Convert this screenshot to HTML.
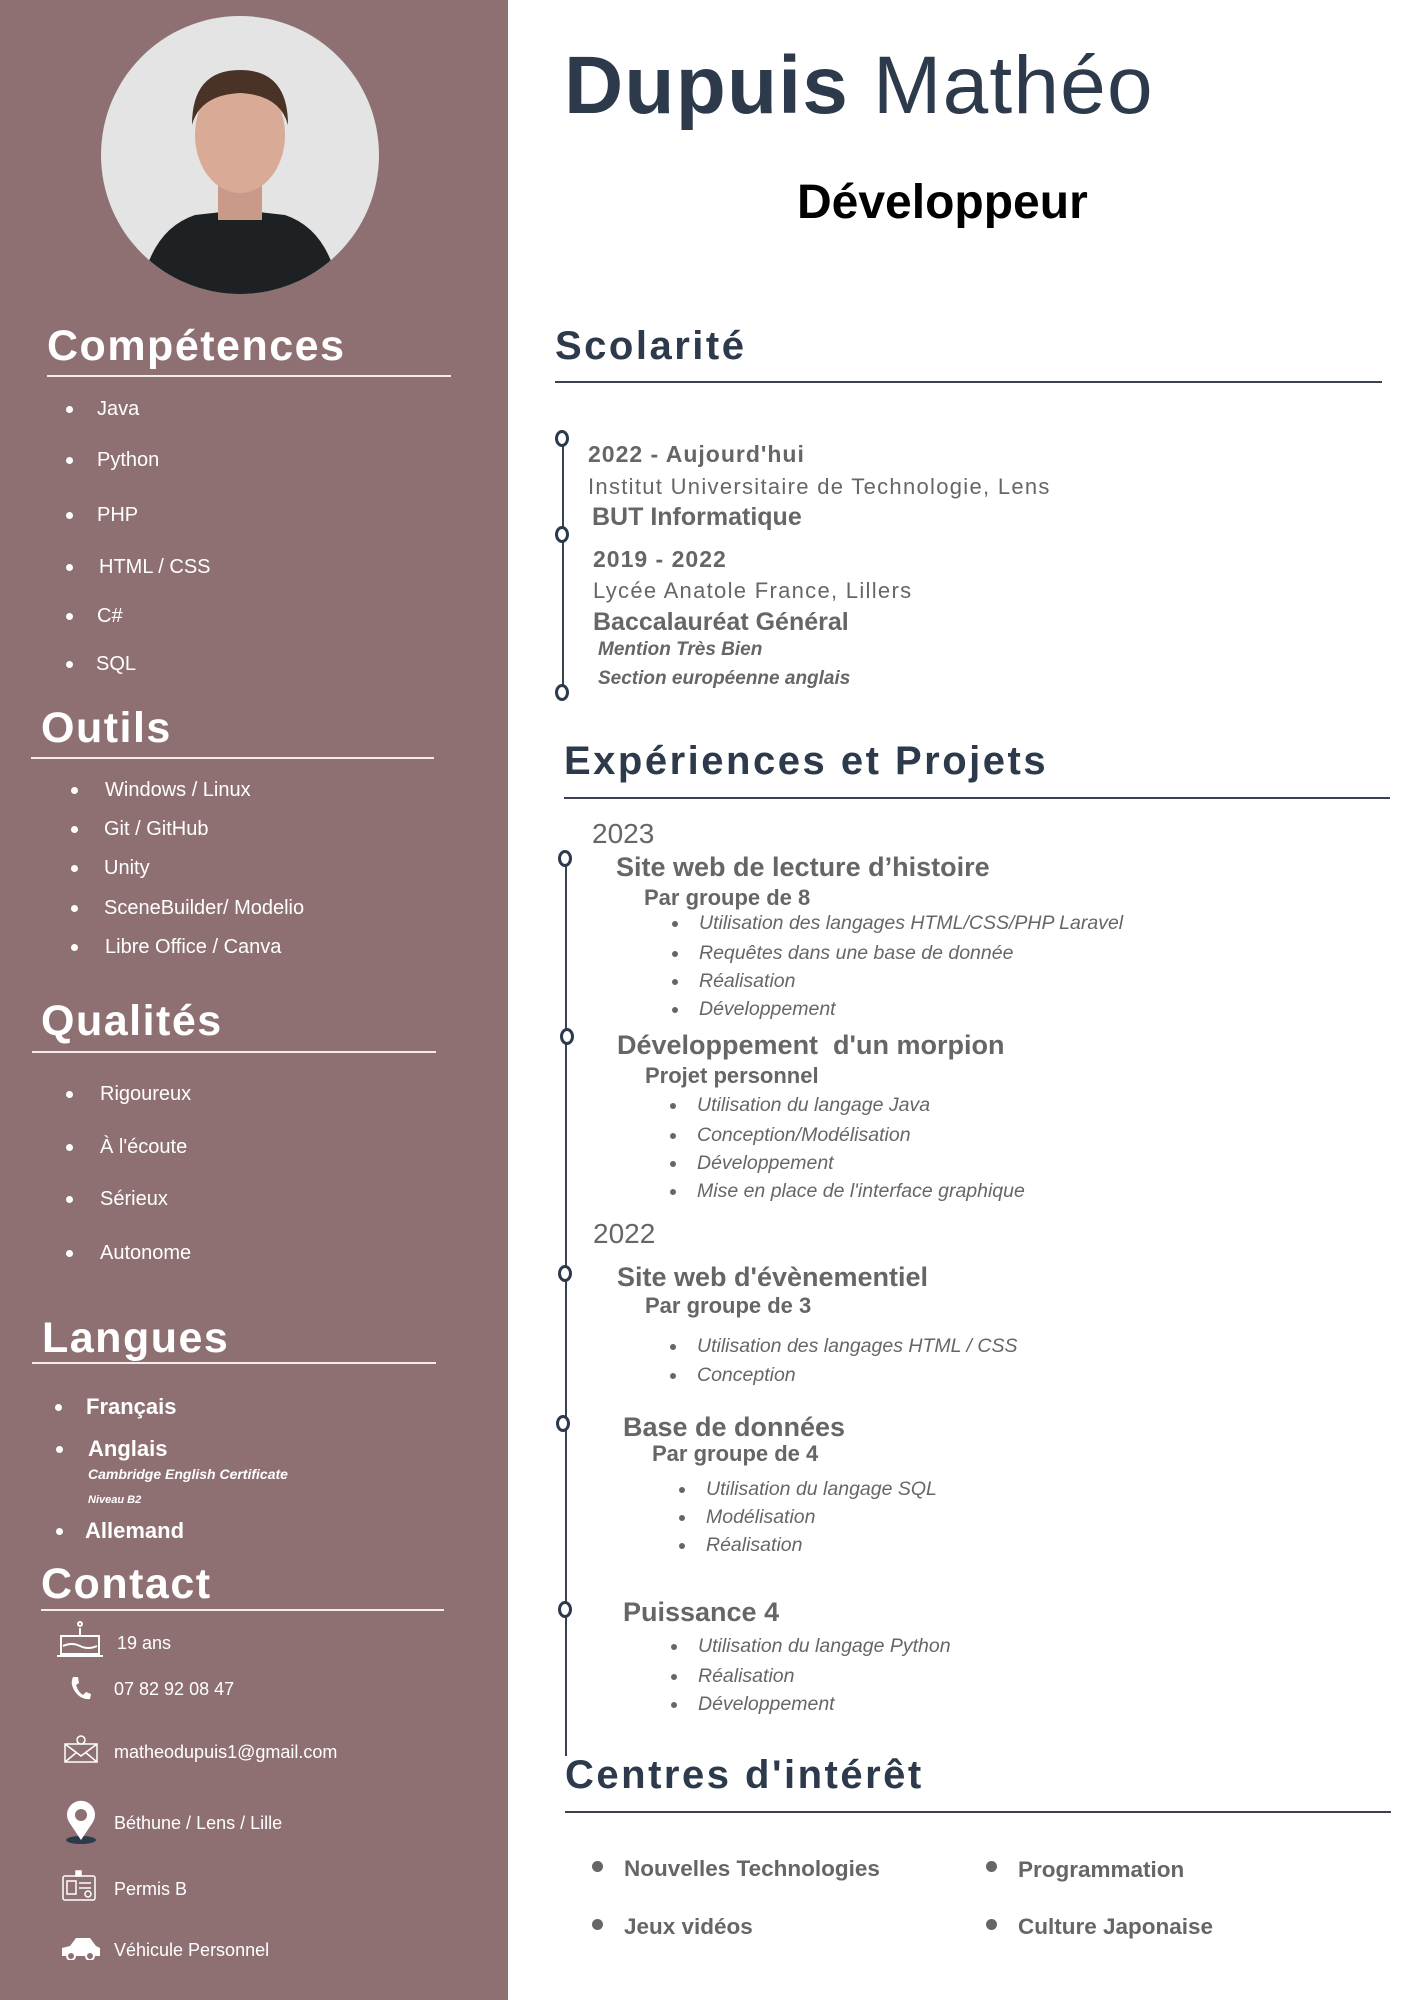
<!DOCTYPE html>
<html><head><meta charset="utf-8"><style>
body{margin:0;width:1414px;height:2000px;position:relative;background:#fff;font-family:"Liberation Sans",sans-serif;overflow:hidden}
.t{position:absolute;white-space:nowrap;line-height:1;margin-top:3px}
.side{position:absolute;left:0;top:0;width:508px;height:2000px;background:#8e7073}
.w{color:#fff}
.h{font-weight:bold;font-size:43px;color:#fff;letter-spacing:1.5px}
.rh{font-weight:bold;font-size:40px;color:#2d3a4b;letter-spacing:2.5px}
.ln{position:absolute;height:2px;background:#f3eeee}
.rl{position:absolute;height:2px;background:#3a4250}
.d{position:absolute;width:7px;height:7px;border-radius:50%;background:#fff;margin-top:3px}
.g{color:#666}
.gd{position:absolute;width:6px;height:6px;border-radius:50%;background:#666;margin-top:3px}
.c{position:absolute;width:14px;height:17px;border:3px solid #2d3a4b;border-radius:50%;background:#fff;box-sizing:border-box;margin-left:-2px;margin-top:-2px}
.it{font-style:italic;font-size:19.5px;color:#666}
</style></head><body>
<div class="side"></div>
<svg style="position:absolute;left:100px;top:15px" width="280" height="280" viewBox="0 0 280 280">
<defs><clipPath id="cp"><circle cx="140" cy="140" r="139"/></clipPath></defs>
<g clip-path="url(#cp)">
<rect width="280" height="280" fill="#e4e4e4"/>
<path d="M40 280 Q50 215 95 200 L140 195 L185 200 Q230 215 240 280Z" fill="#1e2124"/>
<rect x="118" y="160" width="44" height="45" fill="#c99a88"/>
<ellipse cx="140" cy="120" rx="45" ry="58" fill="#d9ab97"/>
<path d="M92 110 Q92 55 140 55 Q188 55 188 110 Q180 80 140 78 Q100 80 92 110Z" fill="#4a3226"/>
</g></svg>

<div class="t h" style="left:47px;top:322px">Compétences</div>
<div class="ln" style="left:47px;top:375px;width:404px"></div>
<div class="d" style="left:66px;top:403px"></div><div class="t w" style="left:97px;top:396px;font-size:20px">Java</div>
<div class="d" style="left:66px;top:454px"></div><div class="t w" style="left:97px;top:447px;font-size:20px">Python</div>
<div class="d" style="left:66px;top:509px"></div><div class="t w" style="left:97px;top:502px;font-size:20px">PHP</div>
<div class="d" style="left:66px;top:561px"></div><div class="t w" style="left:99px;top:554px;font-size:20px">HTML / CSS</div>
<div class="d" style="left:66px;top:610px"></div><div class="t w" style="left:97px;top:603px;font-size:20px">C#</div>
<div class="d" style="left:66px;top:658px"></div><div class="t w" style="left:96px;top:651px;font-size:20px">SQL</div>

<div class="t h" style="left:41px;top:704px">Outils</div>
<div class="ln" style="left:31px;top:757px;width:403px"></div>
<div class="d" style="left:71px;top:784px"></div><div class="t w" style="left:105px;top:777px;font-size:20px">Windows / Linux</div>
<div class="d" style="left:71px;top:823px"></div><div class="t w" style="left:104px;top:816px;font-size:20px">Git / GitHub</div>
<div class="d" style="left:71px;top:862px"></div><div class="t w" style="left:104px;top:855px;font-size:20px">Unity</div>
<div class="d" style="left:71px;top:902px"></div><div class="t w" style="left:104px;top:895px;font-size:20px">SceneBuilder/ Modelio</div>
<div class="d" style="left:71px;top:941px"></div><div class="t w" style="left:105px;top:934px;font-size:20px">Libre Office / Canva</div>

<div class="t h" style="left:41px;top:997px">Qualités</div>
<div class="ln" style="left:32px;top:1051px;width:404px"></div>
<div class="d" style="left:66px;top:1088px"></div><div class="t w" style="left:100px;top:1081px;font-size:20px">Rigoureux</div>
<div class="d" style="left:66px;top:1141px"></div><div class="t w" style="left:100px;top:1134px;font-size:20px">À l'écoute</div>
<div class="d" style="left:66px;top:1193px"></div><div class="t w" style="left:100px;top:1186px;font-size:20px">Sérieux</div>
<div class="d" style="left:66px;top:1247px"></div><div class="t w" style="left:100px;top:1240px;font-size:20px">Autonome</div>

<div class="t h" style="left:42px;top:1314px">Langues</div>
<div class="ln" style="left:32px;top:1362px;width:404px"></div>
<div class="d" style="left:55px;top:1401px"></div><div class="t w" style="left:86px;top:1393px;font-size:22px;font-weight:bold">Français</div>
<div class="d" style="left:56px;top:1443px"></div><div class="t w" style="left:88px;top:1435px;font-size:22px;font-weight:bold">Anglais</div>
<div class="t w" style="left:88px;top:1464px;font-size:14px;font-weight:bold;font-style:italic">Cambridge English Certificate</div>
<div class="t w" style="left:88px;top:1492px;font-size:11px;font-weight:bold;font-style:italic">Niveau B2</div>
<div class="d" style="left:56px;top:1525px"></div><div class="t w" style="left:85px;top:1517px;font-size:22px;font-weight:bold">Allemand</div>

<div class="t h" style="left:41px;top:1560px">Contact</div>
<div class="ln" style="left:41px;top:1609px;width:403px"></div>
<svg style="position:absolute;left:57px;top:1618px" width="48" height="42" fill="none" stroke="#fff" stroke-width="2"><rect x="4" y="18" width="38" height="18"/><line x1="0" y1="38" x2="46" y2="38"/><line x1="23" y1="10" x2="23" y2="18"/><path d="M6 28 Q15 24 23 28 T40 28"/><circle cx="23" cy="6" r="2"/></svg>
<div class="t w" style="left:117px;top:1631px;font-size:18px">19 ans</div>
<svg style="position:absolute;left:68px;top:1675px" width="24" height="26"><path d="M5 2 L10 2 L11 8 L8 10 Q10 17 15 20 L18 17 L23 19 L22 24 Q12 25 6 15 Q2 8 5 2Z" fill="#fff"/></svg>
<div class="t w" style="left:114px;top:1677px;font-size:18px">07 82 92 08 47</div>
<svg style="position:absolute;left:63px;top:1734px" width="36" height="30" fill="none" stroke="#fff" stroke-width="1.5"><rect x="2" y="10" width="32" height="18"/><path d="M2 10 L18 22 L34 10 M2 28 L14 18 M34 28 L22 18"/><circle cx="18" cy="6" r="4" fill="#8e7073"/></svg>
<div class="t w" style="left:114px;top:1740px;font-size:18px">matheodupuis1@gmail.com</div>
<svg style="position:absolute;left:64px;top:1800px" width="34" height="46"><ellipse cx="17" cy="40" rx="15" ry="4" fill="#2d3a4b"/><path d="M17 40 L5 22 A14 14 0 1 1 29 22Z" fill="#fff"/><circle cx="17" cy="15" r="6" fill="#8e7073"/></svg>
<div class="t w" style="left:114px;top:1811px;font-size:18px">Béthune / Lens / Lille</div>
<svg style="position:absolute;left:61px;top:1870px" width="36" height="32" fill="none" stroke="#fff" stroke-width="1.5"><rect x="2" y="6" width="32" height="24" rx="2"/><rect x="6" y="11" width="9" height="13"/><line x1="18" y1="13" x2="30" y2="13"/><line x1="18" y1="18" x2="30" y2="18"/><circle cx="27" cy="24" r="3"/><rect x="15" y="1" width="5" height="5" fill="#fff"/></svg>
<div class="t w" style="left:114px;top:1877px;font-size:18px">Permis B</div>
<svg style="position:absolute;left:60px;top:1934px" width="42" height="26"><path d="M2 22 L2 14 L10 12 L16 4 L30 4 L36 12 L40 14 L40 22Z" fill="#fff"/><circle cx="11" cy="22" r="4" fill="#8e7073" stroke="#fff" stroke-width="2"/><circle cx="30" cy="22" r="4" fill="#8e7073" stroke="#fff" stroke-width="2"/></svg>
<div class="t w" style="left:114px;top:1938px;font-size:18px">Véhicule Personnel</div>

<div class="t" style="left:564px;top:42px;font-size:82px;color:#2d3a4b;letter-spacing:1.2px"><b>Dupuis</b> Mathéo</div>
<div class="t" style="left:797px;top:176px;font-size:48px;font-weight:bold;color:#000">Développeur</div>

<div class="t rh" style="left:555px;top:323px">Scolarité</div>
<div class="rl" style="left:555px;top:381px;width:827px"></div>
<div style="position:absolute;left:562px;top:442px;width:2px;height:252px;background:#3a4250"></div>
<div class="c" style="left:557px;top:432px"></div>
<div class="c" style="left:557px;top:528px"></div>
<div class="c" style="left:557px;top:686px"></div>
<div class="t g" style="left:588px;top:440px;font-size:23px;font-weight:bold;letter-spacing:1px">2022 - Aujourd'hui</div>
<div class="t g" style="left:588px;top:473px;font-size:22px;letter-spacing:1.3px">Institut Universitaire de Technologie, Lens</div>
<div class="t g" style="left:592px;top:502px;font-size:25px;font-weight:bold">BUT Informatique</div>
<div class="t g" style="left:593px;top:545px;font-size:23px;font-weight:bold;letter-spacing:1px">2019 - 2022</div>
<div class="t g" style="left:593px;top:577px;font-size:22px;letter-spacing:1.3px">Lycée Anatole France, Lillers</div>
<div class="t g" style="left:593px;top:607px;font-size:25px;font-weight:bold">Baccalauréat Général</div>
<div class="t g" style="left:598px;top:637px;font-size:19px;font-weight:bold;font-style:italic">Mention Très Bien</div>
<div class="t g" style="left:598px;top:666px;font-size:19px;font-weight:bold;font-style:italic">Section européenne anglais</div>

<div class="t rh" style="left:564px;top:738px">Expériences et Projets</div>
<div class="rl" style="left:564px;top:797px;width:826px"></div>
<div style="position:absolute;left:565px;top:862px;width:2px;height:894px;background:#3a4250"></div>
<div class="c" style="left:560px;top:852px"></div>
<div class="c" style="left:562px;top:1030px"></div>
<div class="c" style="left:560px;top:1267px"></div>
<div class="c" style="left:558px;top:1417px"></div>
<div class="c" style="left:560px;top:1603px"></div>

<div class="t g" style="left:592px;top:817px;font-size:28px">2023</div>
<div class="t g" style="left:616px;top:851px;font-size:27px;font-weight:bold">Site web de lecture d’histoire</div>
<div class="t g" style="left:644px;top:884px;font-size:22px;font-weight:bold">Par groupe de 8</div>
<div class="gd" style="left:672px;top:918px"></div><div class="t it" style="left:699px;top:911px">Utilisation des langages HTML/CSS/PHP Laravel</div>
<div class="gd" style="left:672px;top:948px"></div><div class="t it" style="left:699px;top:941px">Requêtes dans une base de donnée</div>
<div class="gd" style="left:672px;top:976px"></div><div class="t it" style="left:699px;top:969px">Réalisation</div>
<div class="gd" style="left:672px;top:1004px"></div><div class="t it" style="left:699px;top:997px">Développement</div>

<div class="t g" style="left:617px;top:1029px;font-size:27px;font-weight:bold">Développement&nbsp; d'un morpion</div>
<div class="t g" style="left:645px;top:1062px;font-size:22px;font-weight:bold">Projet personnel</div>
<div class="gd" style="left:670px;top:1100px"></div><div class="t it" style="left:697px;top:1093px">Utilisation du langage Java</div>
<div class="gd" style="left:670px;top:1130px"></div><div class="t it" style="left:697px;top:1123px">Conception/Modélisation</div>
<div class="gd" style="left:670px;top:1158px"></div><div class="t it" style="left:697px;top:1151px">Développement</div>
<div class="gd" style="left:670px;top:1186px"></div><div class="t it" style="left:697px;top:1179px">Mise en place de l'interface graphique</div>

<div class="t g" style="left:593px;top:1217px;font-size:28px">2022</div>
<div class="t g" style="left:617px;top:1261px;font-size:27px;font-weight:bold">Site web d'évènementiel</div>
<div class="t g" style="left:645px;top:1292px;font-size:22px;font-weight:bold">Par groupe de 3</div>
<div class="gd" style="left:670px;top:1341px"></div><div class="t it" style="left:697px;top:1334px">Utilisation des langages HTML / CSS</div>
<div class="gd" style="left:670px;top:1370px"></div><div class="t it" style="left:697px;top:1363px">Conception</div>

<div class="t g" style="left:623px;top:1411px;font-size:27px;font-weight:bold">Base de données</div>
<div class="t g" style="left:652px;top:1440px;font-size:22px;font-weight:bold">Par groupe de 4</div>
<div class="gd" style="left:679px;top:1484px"></div><div class="t it" style="left:706px;top:1477px">Utilisation du langage SQL</div>
<div class="gd" style="left:679px;top:1512px"></div><div class="t it" style="left:706px;top:1505px">Modélisation</div>
<div class="gd" style="left:679px;top:1540px"></div><div class="t it" style="left:706px;top:1533px">Réalisation</div>

<div class="t g" style="left:623px;top:1596px;font-size:27px;font-weight:bold">Puissance 4</div>
<div class="gd" style="left:671px;top:1641px"></div><div class="t it" style="left:698px;top:1634px">Utilisation du langage Python</div>
<div class="gd" style="left:671px;top:1671px"></div><div class="t it" style="left:698px;top:1664px">Réalisation</div>
<div class="gd" style="left:671px;top:1699px"></div><div class="t it" style="left:698px;top:1692px">Développement</div>

<div class="t rh" style="left:565px;top:1752px">Centres d'intérêt</div>
<div class="rl" style="left:565px;top:1811px;width:826px"></div>
<div class="gd" style="left:592px;top:1858px;width:11px;height:11px"></div><div class="t g" style="left:624px;top:1855px;font-size:22.5px;font-weight:bold">Nouvelles Technologies</div>
<div class="gd" style="left:986px;top:1858px;width:11px;height:11px"></div><div class="t g" style="left:1018px;top:1856px;font-size:22.5px;font-weight:bold">Programmation</div>
<div class="gd" style="left:592px;top:1916px;width:11px;height:11px"></div><div class="t g" style="left:624px;top:1913px;font-size:22.5px;font-weight:bold">Jeux vidéos</div>
<div class="gd" style="left:986px;top:1916px;width:11px;height:11px"></div><div class="t g" style="left:1018px;top:1913px;font-size:22.5px;font-weight:bold">Culture Japonaise</div>
</body></html>
